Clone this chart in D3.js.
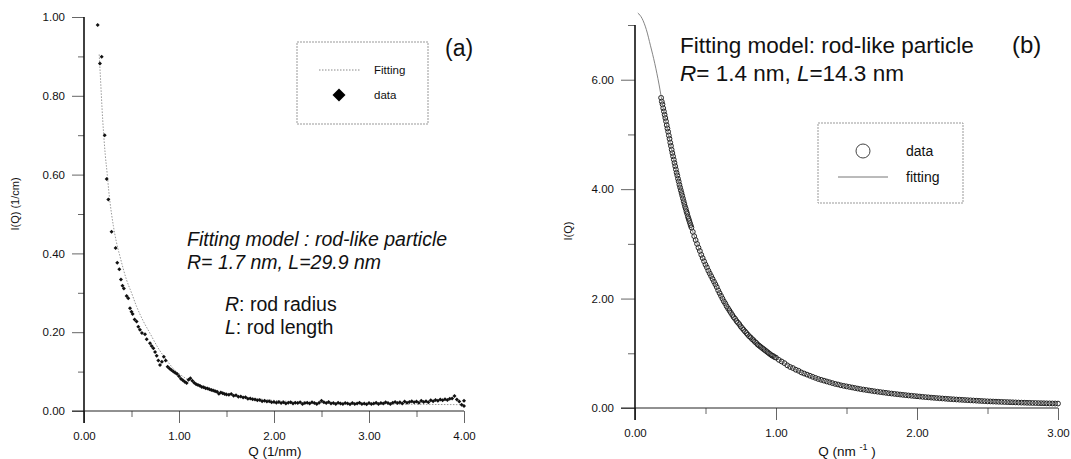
<!DOCTYPE html>
<html><head><meta charset="utf-8">
<script src="https://cdn.jsdelivr.net/npm/d3@7"></script>
<style>body{margin:0;background:#fff}svg{display:block}text{font-family:"Liberation Sans",Arial,sans-serif;fill:#111}</style>
</head><body><svg id="c" width="1071" height="459"></svg>
<script>
// ---- Panel (a) data: [Q (1/nm), I(Q) (1/cm)]
const dataA = [[0.144,0.980],[0.168,0.882],[0.186,0.899],[0.218,0.700],[0.239,0.589],[0.256,0.537],[0.290,0.455],[0.333,0.414],[0.350,0.376],[0.372,0.360],[0.389,0.334],[0.405,0.318],[0.420,0.311],[0.449,0.292],[0.466,0.286],[0.484,0.261],[0.500,0.252],[0.512,0.246],[0.533,0.232],[0.554,0.227],[0.572,0.214],[0.589,0.206],[0.610,0.198],[0.642,0.195],[0.660,0.182],[0.695,0.172],[0.712,0.165],[0.730,0.159],[0.748,0.150],[0.765,0.140],[0.782,0.128],[0.800,0.117],[0.820,0.125],[0.840,0.138],[0.860,0.128],[0.880,0.112],[0.900,0.108],[0.920,0.104],[0.940,0.100],[0.960,0.097],[0.980,0.094],[1.000,0.088],[1.020,0.082],[1.040,0.078],[1.060,0.074],[1.080,0.071],[1.100,0.079],[1.120,0.083],[1.140,0.077],[1.160,0.072],[1.180,0.068],[1.200,0.066],[1.220,0.064],[1.240,0.061],[1.260,0.060],[1.280,0.058],[1.300,0.057],[1.320,0.055],[1.340,0.053],[1.360,0.052],[1.380,0.050],[1.400,0.049],[1.420,0.044],[1.440,0.047],[1.460,0.045],[1.480,0.043],[1.500,0.042],[1.525,0.041],[1.550,0.043],[1.575,0.039],[1.600,0.040],[1.625,0.036],[1.650,0.037],[1.675,0.034],[1.700,0.035],[1.725,0.031],[1.750,0.032],[1.775,0.030],[1.800,0.029],[1.825,0.027],[1.850,0.028],[1.875,0.025],[1.900,0.026],[1.925,0.024],[1.950,0.025],[1.975,0.022],[2.000,0.023],[2.025,0.021],[2.050,0.023],[2.075,0.020],[2.100,0.022],[2.125,0.019],[2.150,0.021],[2.175,0.022],[2.200,0.019],[2.225,0.021],[2.250,0.020],[2.275,0.022],[2.300,0.018],[2.325,0.020],[2.350,0.021],[2.375,0.019],[2.400,0.022],[2.425,0.020],[2.450,0.018],[2.475,0.021],[2.500,0.026],[2.525,0.022],[2.550,0.020],[2.575,0.023],[2.600,0.019],[2.625,0.020],[2.650,0.018],[2.675,0.021],[2.700,0.019],[2.725,0.018],[2.750,0.020],[2.775,0.019],[2.800,0.017],[2.825,0.020],[2.850,0.018],[2.875,0.019],[2.900,0.021],[2.925,0.018],[2.950,0.019],[2.975,0.017],[3.000,0.020],[3.025,0.018],[3.050,0.019],[3.075,0.021],[3.100,0.018],[3.125,0.020],[3.150,0.019],[3.175,0.022],[3.200,0.020],[3.225,0.018],[3.250,0.021],[3.275,0.023],[3.300,0.020],[3.325,0.022],[3.350,0.019],[3.375,0.024],[3.400,0.021],[3.425,0.023],[3.450,0.025],[3.475,0.022],[3.500,0.024],[3.525,0.021],[3.550,0.026],[3.575,0.023],[3.600,0.025],[3.625,0.022],[3.650,0.027],[3.675,0.025],[3.700,0.028],[3.725,0.026],[3.750,0.029],[3.775,0.027],[3.800,0.030],[3.825,0.028],[3.850,0.031],[3.875,0.032],[3.900,0.038],[3.925,0.029],[3.950,0.024],[3.975,0.016],[4.000,0.026],[4.000,0.013]];
const fitA = [[0.160,0.905],[0.170,0.860],[0.197,0.739],[0.224,0.650],[0.245,0.600],[0.260,0.560],[0.290,0.500],[0.309,0.470],[0.340,0.430],[0.379,0.392],[0.449,0.332],[0.500,0.300],[0.554,0.265],[0.620,0.230],[0.695,0.197],[0.780,0.160],[0.870,0.129],[0.950,0.105],[1.045,0.087],[1.200,0.068],[1.400,0.052],[1.600,0.040],[1.800,0.032],[2.000,0.027],[2.500,0.021],[3.000,0.018],[3.500,0.017],[4.000,0.016]];
const xTicksA = [0,1,2,3,4];
const xMinorA = [0.5,1.5,2.5,3.5];
const yTicksA = [0,0.2,0.4,0.6,0.8,1.0];
const yMinorA = [0.1,0.3,0.5,0.7,0.9];

// ---- Panel (b) data: [Q (nm^-1), I(Q)]
const dataB = [[0.185,5.67],[0.190,5.60],[0.195,5.55],[0.200,5.48],[0.205,5.42],[0.210,5.36],[0.215,5.30],[0.220,5.24],[0.225,5.17],[0.230,5.11],[0.235,5.05],[0.240,4.98],[0.245,4.92],[0.250,4.85],[0.255,4.79],[0.260,4.72],[0.265,4.66],[0.270,4.60],[0.275,4.54],[0.280,4.48],[0.285,4.42],[0.290,4.36],[0.295,4.30],[0.300,4.25],[0.305,4.19],[0.310,4.14],[0.315,4.08],[0.320,4.03],[0.325,3.98],[0.330,3.93],[0.335,3.88],[0.340,3.83],[0.345,3.78],[0.350,3.73],[0.355,3.68],[0.360,3.64],[0.365,3.59],[0.370,3.55],[0.375,3.50],[0.380,3.46],[0.385,3.42],[0.390,3.38],[0.395,3.34],[0.400,3.30],[0.410,3.22],[0.420,3.14],[0.430,3.07],[0.440,3.00],[0.450,2.93],[0.460,2.87],[0.470,2.80],[0.480,2.74],[0.490,2.68],[0.500,2.62],[0.510,2.57],[0.520,2.51],[0.530,2.46],[0.540,2.41],[0.550,2.36],[0.560,2.31],[0.570,2.26],[0.580,2.21],[0.590,2.15],[0.600,2.10],[0.610,2.05],[0.620,2.00],[0.630,1.95],[0.640,1.91],[0.650,1.86],[0.660,1.82],[0.670,1.78],[0.680,1.74],[0.690,1.70],[0.700,1.66],[0.710,1.63],[0.720,1.59],[0.730,1.56],[0.740,1.53],[0.750,1.49],[0.760,1.46],[0.770,1.43],[0.780,1.40],[0.790,1.37],[0.800,1.34],[0.810,1.31],[0.820,1.29],[0.830,1.26],[0.840,1.24],[0.850,1.21],[0.860,1.19],[0.870,1.16],[0.880,1.14],[0.890,1.12],[0.900,1.10],[0.910,1.08],[0.920,1.06],[0.930,1.04],[0.940,1.02],[0.950,1.00],[0.960,0.98],[0.970,0.96],[0.980,0.95],[0.990,0.93],[1.000,0.92],[1.020,0.88],[1.040,0.85],[1.060,0.82],[1.080,0.78],[1.100,0.75],[1.120,0.73],[1.140,0.70],[1.160,0.68],[1.180,0.65],[1.200,0.63],[1.220,0.61],[1.240,0.59],[1.260,0.57],[1.280,0.55],[1.300,0.53],[1.320,0.515],[1.340,0.50],[1.360,0.485],[1.380,0.47],[1.400,0.455],[1.420,0.44],[1.440,0.43],[1.460,0.415],[1.480,0.405],[1.500,0.395],[1.520,0.385],[1.540,0.375],[1.560,0.365],[1.580,0.355],[1.600,0.345],[1.620,0.337],[1.640,0.329],[1.660,0.321],[1.680,0.313],[1.700,0.305],[1.720,0.298],[1.740,0.291],[1.760,0.284],[1.780,0.277],[1.800,0.270],[1.820,0.264],[1.840,0.258],[1.860,0.252],[1.880,0.246],[1.900,0.240],[1.920,0.235],[1.940,0.229],[1.960,0.224],[1.980,0.219],[2.000,0.214],[2.020,0.209],[2.040,0.204],[2.060,0.199],[2.080,0.195],[2.100,0.190],[2.120,0.186],[2.140,0.182],[2.160,0.178],[2.180,0.174],[2.200,0.170],[2.220,0.166],[2.240,0.162],[2.260,0.159],[2.280,0.155],[2.300,0.152],[2.320,0.149],[2.340,0.146],[2.360,0.143],[2.380,0.140],[2.400,0.137],[2.420,0.134],[2.440,0.131],[2.460,0.128],[2.480,0.125],[2.500,0.122],[2.520,0.120],[2.540,0.118],[2.560,0.116],[2.580,0.114],[2.600,0.112],[2.620,0.110],[2.640,0.108],[2.660,0.106],[2.680,0.104],[2.700,0.102],[2.720,0.100],[2.740,0.098],[2.760,0.097],[2.780,0.095],[2.800,0.094],[2.820,0.092],[2.840,0.091],[2.860,0.089],[2.880,0.088],[2.900,0.087],[2.920,0.085],[2.940,0.084],[2.960,0.083],[2.980,0.082],[3.000,0.081]];
const fitB = [[0.02,7.22],[0.05,7.12],[0.08,6.92],[0.11,6.62],[0.14,6.30],[0.17,5.92],[0.20,5.48],[0.25,4.85],[0.30,4.25],[0.35,3.73],[0.40,3.30],[0.50,2.62],[0.60,2.10],[0.70,1.66],[0.80,1.34],[0.90,1.10],[1.00,0.92],[1.20,0.63],[1.40,0.455],[1.60,0.345],[1.80,0.27],[2.00,0.214],[2.25,0.16],[2.50,0.122],[2.75,0.098],[3.00,0.081]];
const xTicksB = [0,1,2,3];
const xMinorB = [0.5,1.5,2.5];
const yTicksB = [0,2,4,6];
const yMinorB = [1,3,5,7];

const svg = d3.select("#c");
svg.append("rect").attr("width",1071).attr("height",459).attr("fill","#fff");
const fmt = d3.format(".2f");

function axes(g, x, y, xt, xm, yt, ym, yTick, xLeftExt, yBottomExt){
  const [x0,x1] = x.range(), [y0,y1] = y.range();
  g.append("g").attr("transform",`translate(0,${y0})`)
    .call(d3.axisBottom(x).tickValues(xt).tickSize(12).tickPadding(9).tickFormat(fmt).tickSizeOuter(0));
  g.append("g").attr("transform",`translate(0,${y0})`)
    .call(d3.axisBottom(x).tickValues(xm).tickSize(6).tickFormat("").tickSizeOuter(0));
  g.append("g").attr("transform",`translate(${x0},0)`)
    .call(d3.axisLeft(y).tickValues(yt).tickSize(yTick).tickPadding(7).tickFormat(fmt).tickSizeOuter(0));
  g.append("g").attr("transform",`translate(${x0},0)`)
    .call(d3.axisLeft(y).tickValues(ym).tickSize(yTick/2).tickFormat("").tickSizeOuter(0));
  g.selectAll(".domain").remove();
  g.selectAll(".tick line").attr("stroke","#666").attr("stroke-width",1);
  g.selectAll(".tick text").attr("font-size","11.5px").attr("fill","#111").attr("font-family","'Liberation Sans',Arial,sans-serif");
  g.append("line").attr("x1",x0-xLeftExt).attr("x2",x1).attr("y1",y0).attr("y2",y0).attr("stroke","#222").attr("stroke-width",1);
  g.append("line").attr("x1",x0).attr("x2",x0).attr("y1",y1).attr("y2",y0+yBottomExt).attr("stroke","#111").attr("stroke-width",1.6);
}

// ---------- Panel (a)
const xA = d3.scaleLinear([0,4],[84,464]);
const yA = d3.scaleLinear([0,1],[411,17]);
const gA = svg.append("g");
axes(gA, xA, yA, xTicksA, xMinorA, yTicksA, yMinorA, 12, 12, 12);

gA.append("path").datum(fitA)
  .attr("d", d3.line().x(d=>xA(d[0])).y(d=>yA(d[1])).curve(d3.curveMonotoneX))
  .attr("fill","none").attr("stroke","#999").attr("stroke-width",1).attr("stroke-dasharray","1.5,1.5");

const diamond = d3.symbol().type(d3.symbolSquare);
gA.append("g").selectAll("path").data(dataA).join("path")
  .attr("d", diamond.size(8)())
  .attr("transform", d=>`translate(${xA(d[0])},${yA(d[1])}) rotate(45)`)
  .attr("fill","#111");

gA.append("text").attr("x",275).attr("y",456).attr("text-anchor","middle").attr("font-size","13.5px").text("Q (1/nm)");
gA.append("text").attr("transform","translate(19,204) rotate(-90)").attr("text-anchor","middle").attr("font-size","11px").text("I(Q) (1/cm)");

// legend (a)
gA.append("rect").attr("x",297).attr("y",42).attr("width",131).attr("height",82)
  .attr("fill","none").attr("stroke","#999").attr("stroke-width",1).attr("stroke-dasharray","2,1");
gA.append("line").attr("x1",319).attr("x2",360).attr("y1",70).attr("y2",70)
  .attr("stroke","#888").attr("stroke-width",1).attr("stroke-dasharray","1.5,1.5");
gA.append("text").attr("x",374).attr("y",74).attr("font-size","11.5px").text("Fitting");
gA.append("path").attr("d", diamond.size(85)()).attr("transform","translate(339,95) rotate(45)").attr("fill","#000");
gA.append("text").attr("x",374).attr("y",99).attr("font-size","11.5px").text("data");
gA.append("text").attr("x",445).attr("y",56).attr("font-size","23px").text("(a)");

// annotation (a)
const annA = gA.append("g").attr("font-size","19.5px");
annA.append("text").attr("x",187).attr("y",246).attr("font-style","italic").text("Fitting model : rod-like particle");
annA.append("text").attr("x",187).attr("y",269).attr("font-style","italic").text("R= 1.7 nm, L=29.9 nm");
const t3 = annA.append("text").attr("x",225).attr("y",311);
t3.append("tspan").attr("font-style","italic").text("R");
t3.append("tspan").text(": rod radius");
const t4 = annA.append("text").attr("x",225).attr("y",334);
t4.append("tspan").attr("font-style","italic").text("L");
t4.append("tspan").text(": rod length");

// ---------- Panel (b)
const xB = d3.scaleLinear([0,3],[635,1058]);
const yB = d3.scaleLinear([0,7],[408,25]);
const gB = svg.append("g");
axes(gB, xB, yB, xTicksB, xMinorB, yTicksB, yMinorB, 14, 14, 12);

gB.append("g").selectAll("circle").data(dataB).join("circle")
  .attr("cx", d=>xB(d[0])).attr("cy", d=>yB(d[1])).attr("r",2.4)
  .attr("fill","none").attr("stroke","#222").attr("stroke-width",1);

gB.append("path").datum(fitB)
  .attr("d", d3.line().x(d=>xB(d[0])).y(d=>yB(d[1])).curve(d3.curveMonotoneX))
  .attr("fill","none").attr("stroke","#777").attr("stroke-width",0.9);

const qt = gB.append("text").attr("x",847).attr("y",456).attr("text-anchor","middle").attr("font-size","13.5px");
qt.append("tspan").text("Q (nm ");
qt.append("tspan").attr("font-size","9px").attr("dy",-6).text("-1");
qt.append("tspan").attr("dy",6).text(" )");
gB.append("text").attr("transform","translate(572,231) rotate(-90)").attr("text-anchor","middle").attr("font-size","11px").text("I(Q)");

// legend (b)
gB.append("rect").attr("x",818).attr("y",123).attr("width",145).attr("height",80)
  .attr("fill","none").attr("stroke","#999").attr("stroke-width",1).attr("stroke-dasharray","2,1");
gB.append("circle").attr("cx",863).attr("cy",151).attr("r",7).attr("fill","none").attr("stroke","#444").attr("stroke-width",1);
gB.append("text").attr("x",906).attr("y",156).attr("font-size","14px").text("data");
gB.append("line").attr("x1",838).attr("x2",888).attr("y1",177).attr("y2",177).attr("stroke","#777").attr("stroke-width",1);
gB.append("text").attr("x",906).attr("y",182).attr("font-size","14px").text("fitting");
gB.append("text").attr("x",1012).attr("y",53).attr("font-size","24px").text("(b)");

// annotation (b)
const annB = gB.append("g").attr("font-size","22.5px");
annB.append("text").attr("x",680).attr("y",53).text("Fitting model: rod-like particle");
const b2 = annB.append("text").attr("x",680).attr("y",81);
b2.append("tspan").attr("font-style","italic").text("R");
b2.append("tspan").text("= 1.4 nm, ");
b2.append("tspan").attr("font-style","italic").text("L");
b2.append("tspan").text("=14.3 nm");
</script></body></html>
